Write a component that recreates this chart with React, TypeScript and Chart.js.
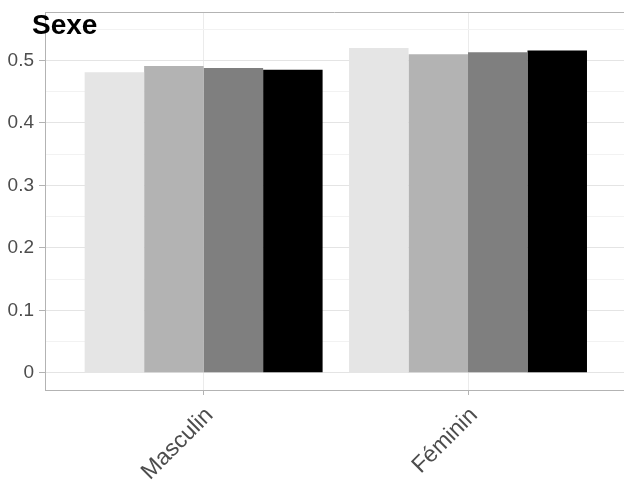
import React, { useEffect, useRef } from 'react';
import { Chart, registerables } from 'chart.js';

Chart.register(...registerables);

const title = 'Sexe';
const categories = ['Masculin', 'Féminin'];
const seriesNames = ['Groupe 1', 'Groupe 2', 'Groupe 3', 'Groupe 4'];
const groupe1 = [0.481, 0.52];
const groupe2 = [0.491, 0.51];
const groupe3 = [0.488, 0.513];
const groupe4 = [0.485, 0.516];
const yMajorTicks = [0, 0.1, 0.2, 0.3, 0.4, 0.5];
const yMinorTicks = [0.05, 0.15, 0.25, 0.35, 0.45, 0.55];

const COLORS = ['#e5e5e5', '#b3b3b3', '#7f7f7f', '#000000'];
const FONT = '"Liberation Sans", Arial, Helvetica, sans-serif';

const framePlugin = {
  id: 'frameAndTitle',
  afterDraw(chart: any) {
    const { ctx, chartArea } = chart;
    ctx.save();
    ctx.strokeStyle = '#b3b3b3';
    ctx.lineWidth = 1;
    ctx.beginPath();
    ctx.moveTo(chartArea.left, Math.round(chartArea.top) + 0.5);
    ctx.lineTo(chartArea.right, Math.round(chartArea.top) + 0.5);
    ctx.stroke();
    ctx.font = `bold 28px ${FONT}`;
    ctx.fillStyle = '#000000';
    ctx.textBaseline = 'alphabetic';
    ctx.textAlign = 'left';
    ctx.fillText(title, 32, 34);
    ctx.restore();
  },
};

export default function App() {
  const canvasRef = useRef<HTMLCanvasElement>(null);

  useEffect(() => {
    if (!canvasRef.current) return;
    const series = [groupe1, groupe2, groupe3, groupe4];
    const chart = new Chart(canvasRef.current, {
      type: 'bar',
      data: {
        datasets: series.map((vals, i) => ({
          label: seriesNames[i],
          data: vals.map((v, j) => ({ x: j + 1, y: v })),
          backgroundColor: COLORS[i],
          borderWidth: 0,
          categoryPercentage: 0.9,
          barPercentage: 1,
        })),
      },
      options: {
        responsive: false,
        animation: false,
        devicePixelRatio: 1,
        layout: { padding: { top: 12, left: 0, right: 0, bottom: 0 } },
        plugins: {
          legend: { display: false },
          tooltip: { enabled: false },
          title: { display: false },
        },
        scales: {
          x: {
            type: 'linear',
            min: 0.4,
            max: 2.59,
            offset: false,
            grid: {
              offset: false,
              color: '#ebebeb',
              lineWidth: 1,
              drawTicks: true,
              tickLength: 5,
              tickColor: '#b3b3b3',
            },
            border: { display: true, color: '#b3b3b3', width: 1 },
            ticks: {
              autoSkip: false,
              minRotation: 45,
              maxRotation: 45,
              padding: 7,
              labelOffset: 6,
              color: '#4d4d4d',
              font: { family: FONT, size: 23 },
              callback: (value: any) => categories[Number(value) - 1] ?? '',
            },
            afterBuildTicks: (scale: any) => {
              scale.ticks = categories.map((_, i) => ({ value: i + 1 }));
            },
            afterFit: (scale: any) => {
              scale.height = 90;
              scale.paddingLeft = 0;
              scale.paddingRight = 0;
            },
          },
          y: {
            type: 'linear',
            min: -0.0275,
            max: 0.5775,
            grid: {
              color: (ctx: any) =>
                ctx.tick && yMajorTicks.includes(ctx.tick.value) ? '#e4e4e4' : '#f2f2f2',
              lineWidth: 1,
              drawTicks: true,
              tickLength: 6,
              tickColor: (ctx: any) =>
                ctx.tick && yMajorTicks.includes(ctx.tick.value) ? '#b3b3b3' : 'rgba(0,0,0,0)',
            },
            border: { display: true, color: '#b3b3b3', width: 1 },
            ticks: {
              autoSkip: false,
              padding: 5,
              color: '#4d4d4d',
              font: { family: FONT, size: 19 },
              callback: (value: any) =>
                yMajorTicks.includes(Number(value)) ? String(value) : '',
            },
            afterBuildTicks: (scale: any) => {
              scale.ticks = [...yMajorTicks, ...yMinorTicks]
                .sort((a, b) => a - b)
                .map((v) => ({ value: v }));
            },
            afterFit: (scale: any) => {
              scale.width = 45;
              scale.paddingTop = 0;
              scale.paddingBottom = 0;
            },
          },
        },
      },
      plugins: [framePlugin],
    });
    return () => chart.destroy();
  }, []);

  return (
    <div style={{ position: 'fixed', left: 0, top: 0, width: 624, height: 480, background: '#ffffff' }}>
      <canvas ref={canvasRef} width={624} height={480} style={{ display: 'block' }} />
    </div>
  );
}
